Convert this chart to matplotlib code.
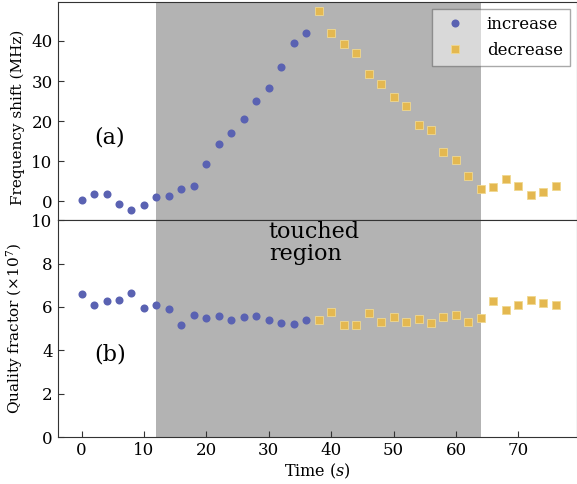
import numpy as np
import matplotlib.pyplot as plt

# ---------------------------------------------------------
#  Style
# ---------------------------------------------------------
plt.rcParams.update({
    "font.family": "DejaVu Serif",
    "mathtext.fontset": "dejavuserif",
    "font.size": 12,
    "axes.edgecolor": "#333333",
    "xtick.direction": "in",
    "ytick.direction": "in",
    "xtick.color": "#333333",
    "ytick.color": "#333333",
    "xtick.labelcolor": "black",
    "ytick.labelcolor": "black",
})

BLUE = "#5a62b2"
GOLD = "#e4b850"
SHADE = "#b3b3b3"

# ---------------------------------------------------------
#  Data
# ---------------------------------------------------------
t_inc = [0, 2, 4, 6, 8, 10, 12, 14, 16, 18, 20, 22, 24, 26, 28, 30, 32, 34, 36]
t_dec = [38, 40, 42, 44, 46, 48, 50, 52, 54, 56, 58, 60, 62, 64, 66, 68, 70, 72, 74, 76]

shift_inc = [0.2, 1.8, 1.8, -0.8, -2.2, -1.0, 1.0, 1.2, 3.0, 3.8, 9.3, 14.2, 17.0,
             20.5, 25.0, 28.2, 33.6, 39.4, 42.1]
shift_dec = [47.4, 42.0, 39.2, 37.1, 31.7, 29.3, 25.9, 23.8, 18.9, 17.7, 12.3, 10.3,
             6.3, 3.0, 3.5, 5.5, 3.9, 1.6, 2.3, 3.7]

q_inc = [6.60, 6.07, 6.28, 6.34, 6.63, 5.97, 6.11, 5.89, 5.18, 5.65, 5.49, 5.57,
         5.38, 5.55, 5.60, 5.41, 5.25, 5.20, 5.41]
q_dec = [5.40, 5.78, 5.17, 5.18, 5.71, 5.32, 5.55, 5.31, 5.46, 5.26, 5.55, 5.63,
         5.29, 5.48, 6.26, 5.88, 6.09, 6.32, 6.18, 6.11]

touched = (12, 64)

# ---------------------------------------------------------
#  Figure
# ---------------------------------------------------------
fig = plt.figure(figsize=(5.77, 4.84), dpi=100)
ax1 = fig.add_axes([0.0997, 0.545, 0.9003, 0.451])
ax2 = fig.add_axes([0.0997, 0.097, 0.9003, 0.448], sharex=ax1)

for ax in (ax1, ax2):
    ax.axvspan(*touched, color=SHADE, lw=0, zorder=0)

# top panel
ax1.plot(t_inc, shift_inc, "o", color=BLUE, ms=5.8, mec="none", label="increase")
ax1.plot(t_dec, shift_dec, "s", color=GOLD, ms=5.5, mec="#f0d890", mew=0.6,
         label="decrease")
ax1.set_ylim(-4.75, 49.75)
ax1.set_yticks([0, 10, 20, 30, 40])
ax1.set_ylabel("Frequency shift (MHz)", fontsize=11)
ax1.yaxis.set_label_coords(-0.062, 0.47)
ax1.tick_params(bottom=False, labelbottom=False, length=4)
ax1.text(4.5, 16, "(a)", fontsize=16, ha="center", va="center")
leg = ax1.legend(loc="upper right", fancybox=False, framealpha=0.5,
                 edgecolor="#555555", fontsize=12, handletextpad=0.9,
                 borderaxespad=0.45, labelspacing=0.55)
leg.get_frame().set_linewidth(1.0)

# bottom panel
ax2.plot(t_inc, q_inc, "o", color=BLUE, ms=5.8, mec="none")
ax2.plot(t_dec, q_dec, "s", color=GOLD, ms=5.5, mec="#f0d890", mew=0.6)
ax2.set_ylim(0, 10)
ax2.set_yticks([0, 2, 4, 6, 8, 10])
ax2.set_xlim(-3.85, 79.4)
ax2.set_xticks([0, 10, 20, 30, 40, 50, 60, 70])
ax2.set_ylabel(r"Quality fractor ($\times10^7$)", fontsize=11)
ax2.yaxis.set_label_coords(-0.062, 0.5)
ax2.set_xlabel(r"Time ($s$)", fontsize=11.5, labelpad=2)
ax2.tick_params(length=4)
ax2.text(4.5, 3.8, "(b)", fontsize=16, ha="center", va="center")
ax2.text(30, 9.95, "touched\nregion", fontsize=16, ha="left", va="top",
         linespacing=1.0)

fig.savefig("out.png", dpi=100)
